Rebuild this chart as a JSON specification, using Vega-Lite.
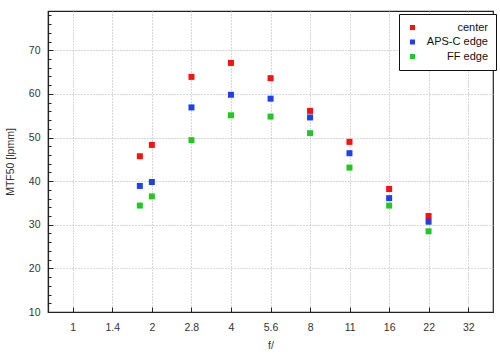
{
  "$schema": "https://vega.github.io/schema/vega-lite/v6.json",
  "width": 445,
  "height": 301,
  "autosize": {"type": "none"},
  "padding": {"left": 48, "top": 11, "right": 7, "bottom": 44},
  "background": "white",
  "config": {
    "view": {"stroke": "#222", "strokeWidth": 1.2},
    "font": "Liberation Sans",
    "axis": {
      "labelFont": "Liberation Sans",
      "labelFontSize": 10.5,
      "labelColor": "#333",
      "titleFont": "Liberation Sans",
      "titleFontSize": 10.5,
      "titleFontWeight": "normal",
      "titleColor": "#333",
      "domainColor": "#222",
      "domainWidth": 1.2,
      "tickColor": "#222",
      "gridColor": "#b0b0b0",
      "gridDash": [1, 2],
      "gridWidth": 1
    }
  },
  "data": {
    "values": [
      {"f": 1.8, "series": "center", "mtf": 45.7},
      {"f": 2, "series": "center", "mtf": 48.3},
      {"f": 2.83, "series": "center", "mtf": 63.9},
      {"f": 4, "series": "center", "mtf": 67.1},
      {"f": 5.66, "series": "center", "mtf": 63.6},
      {"f": 8, "series": "center", "mtf": 56.1},
      {"f": 11.3, "series": "center", "mtf": 49.0},
      {"f": 16, "series": "center", "mtf": 38.2},
      {"f": 22.6, "series": "center", "mtf": 32.0},
      {"f": 1.8, "series": "APS-C edge", "mtf": 38.9},
      {"f": 2, "series": "APS-C edge", "mtf": 39.8},
      {"f": 2.83, "series": "APS-C edge", "mtf": 56.9},
      {"f": 4, "series": "APS-C edge", "mtf": 59.8},
      {"f": 5.66, "series": "APS-C edge", "mtf": 58.9},
      {"f": 8, "series": "APS-C edge", "mtf": 54.6},
      {"f": 11.3, "series": "APS-C edge", "mtf": 46.4},
      {"f": 16, "series": "APS-C edge", "mtf": 36.1},
      {"f": 22.6, "series": "APS-C edge", "mtf": 30.7},
      {"f": 1.8, "series": "FF edge", "mtf": 34.4},
      {"f": 2, "series": "FF edge", "mtf": 36.5},
      {"f": 2.83, "series": "FF edge", "mtf": 49.4},
      {"f": 4, "series": "FF edge", "mtf": 55.1},
      {"f": 5.66, "series": "FF edge", "mtf": 54.8},
      {"f": 8, "series": "FF edge", "mtf": 51.0},
      {"f": 11.3, "series": "FF edge", "mtf": 43.1},
      {"f": 16, "series": "FF edge", "mtf": 34.4},
      {"f": 22.6, "series": "FF edge", "mtf": 28.5}
    ]
  },
  "mark": {"type": "point", "shape": "square", "filled": true, "opacity": 1, "size": 36},
  "encoding": {
    "x": {
      "field": "f",
      "type": "quantitative",
      "scale": {"type": "log", "base": 2, "domain": [0.805, 39.75], "nice": false},
      "axis": {
        "title": "f/",
        "titlePadding": 8,
        "values": [1, 1.41421, 2, 2.82843, 4, 5.65685, 8, 11.3137, 16, 22.6274, 32],
        "labelExpr": "datum.value < 1.2 ? '1' : datum.value < 1.7 ? '1.4' : datum.value < 2.4 ? '2' : datum.value < 3.4 ? '2.8' : datum.value < 4.8 ? '4' : datum.value < 6.8 ? '5.6' : datum.value < 9.6 ? '8' : datum.value < 13.6 ? '11' : datum.value < 19 ? '16' : datum.value < 27 ? '22' : '32'",
        "tickSize": -5,
        "labelPadding": 15,
        "labelFlush": false,
        "labelOverlap": false
      }
    },
    "y": {
      "field": "mtf",
      "type": "quantitative",
      "scale": {"domain": [10, 79], "nice": false, "zero": false},
      "axis": {
        "title": "MTF50 [lpmm]",
        "titlePadding": 13,
        "values": [10, 12, 14, 16, 18, 20, 22, 24, 26, 28, 30, 32, 34, 36, 38, 40, 42, 44, 46, 48, 50, 52, 54, 56, 58, 60, 62, 64, 66, 68, 70, 72, 74, 76, 78],
        "labelExpr": "datum.value % 10 == 0 ? datum.label : ''",
        "tickSize": {"condition": {"test": "datum.value % 10 == 0", "value": -5}, "value": -3},
        "gridOpacity": {"condition": {"test": "datum.value % 10 == 0 && datum.value > 10", "value": 1}, "value": 0},
        "labelPadding": 13,
        "labelFlush": false,
        "labelOverlap": false
      }
    },
    "color": {
      "field": "series",
      "type": "nominal",
      "scale": {"domain": ["center", "APS-C edge", "FF edge"], "range": ["#ff1010", "#1f3ff0", "#22c822"]},
      "legend": {
        "title": null,
        "orient": "none",
        "legendX": 351,
        "legendY": 3,
        "padding": 8,
        "strokeColor": "#111",
        "fillColor": "white",
        "symbolType": "square",
        "symbolSize": 25,
        "symbolStrokeWidth": 0,
        "labelAlign": "right",
        "labelOffset": 70,
        "labelFont": "Liberation Sans",
        "labelFontSize": 11,
        "labelColor": "#111",
        "rowPadding": 2.5
      }
    }
  }
}
